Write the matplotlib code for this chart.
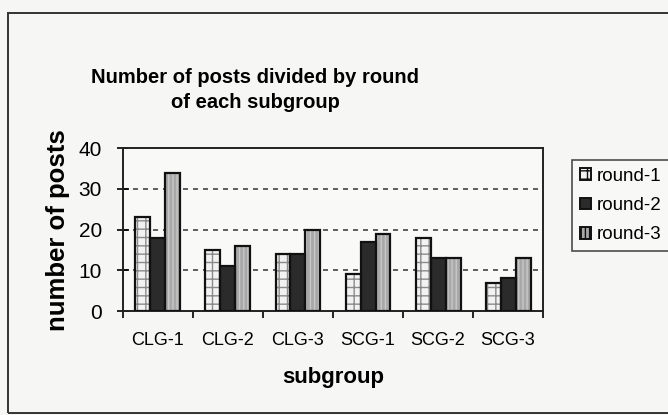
import matplotlib.pyplot as plt
import numpy as np
from matplotlib.patches import Rectangle

# data
subgroups = ['CLG-1', 'CLG-2', 'CLG-3', 'SCG-1', 'SCG-2', 'SCG-3']
round_1 = [23, 15, 14, 9, 18, 7]
round_2 = [18, 11, 14, 17, 13, 8]
round_3 = [34, 16, 20, 19, 13, 13]
round_labels = ['round-1', 'round-2', 'round-3']
y_ticks = [0, 10, 20, 30, 40]

plt.rcParams['font.family'] = ['Liberation Sans', 'DejaVu Sans']

fig = plt.figure(figsize=(6.68, 4.15), dpi=100, facecolor='#f6f6f4')
ax = fig.add_axes([0.184, 0.2506, 0.629, 0.392])
ax.set_facecolor('#f9f9f8')

# outer chart border (runs off the right edge)
fig.patches.append(Rectangle((8 / 668, 2 / 415), 1.0, 400 / 415, transform=fig.transFigure,
                             fill=False, edgecolor='#333333', linewidth=1.4))

x = np.arange(len(subgroups))
width = 0.214
styles = [
    # facecolor, hatch, hatch colour
    ('#f2f2f2', '++', '#8a8a8a'),
    ('#2b2b2b', '', '#2b2b2b'),
    ('#a8a8a8', '||||', '#c8c8c8'),
]
series = [round_1, round_2, round_3]
handles = []
for i, (vals, (fc, hatch, hc)) in enumerate(zip(series, styles)):
    pos = x + (i - 1) * width
    # hatch layer first, then the black outline on top
    ax.bar(pos, vals, width, color=fc, edgecolor=hc, hatch=hatch, linewidth=0, zorder=2)
    ax.bar(pos, vals, width, facecolor='none', edgecolor='#111111', linewidth=1.6, zorder=3)
    handles.append(Rectangle((0, 0), 1, 1, facecolor=fc, edgecolor='#111111', hatch=hatch, linewidth=1.4))

ax.set_xlim(-0.5, len(subgroups) - 0.5)
ax.set_ylim(0, 40)
ax.set_yticks(y_ticks)
ax.tick_params(axis='y', direction='inout', length=8, width=1.2, labelsize=15, pad=11)
ax.set_xticks(x)
ax.set_xticklabels(subgroups, fontsize=13)
ax.tick_params(axis='x', length=0, pad=15)
ax.set_xticks(np.arange(len(subgroups) + 1) - 0.5, minor=True)
ax.tick_params(axis='x', which='minor', direction='out', length=5, width=1.2)

for yv in y_ticks[1:-1]:
    ax.axhline(yv, color='#444444', linestyle=(0, (3, 3)), linewidth=1.2, zorder=1)

for s in ax.spines.values():
    s.set_linewidth(1.4)
    s.set_color('#222222')

ax.set_xlabel('subgroup', fontsize=16, fontweight='bold', labelpad=13)
ax.set_ylabel('number of posts', fontsize=18.5, fontweight='bold', labelpad=6)

fig.text(255 / 668, 1 - 90 / 415, 'Number of posts divided by round\nof each subgroup',
         ha='center', va='center', fontsize=14.5, fontweight='bold', linespacing=1.4)

leg = fig.legend(handles, round_labels, loc='upper left', bbox_to_anchor=(0.857, 0.614),
                 fontsize=13.5, frameon=True, fancybox=False, handlelength=0.6, handleheight=0.6,
                 handletextpad=0.3, borderpad=0.4, labelspacing=0.66, borderaxespad=0)
leg.get_frame().set_edgecolor('#222222')
leg.get_frame().set_linewidth(1.2)
leg.get_frame().set_facecolor('#f9f9f8')

plt.savefig('out.png', dpi=100, facecolor=fig.get_facecolor())
